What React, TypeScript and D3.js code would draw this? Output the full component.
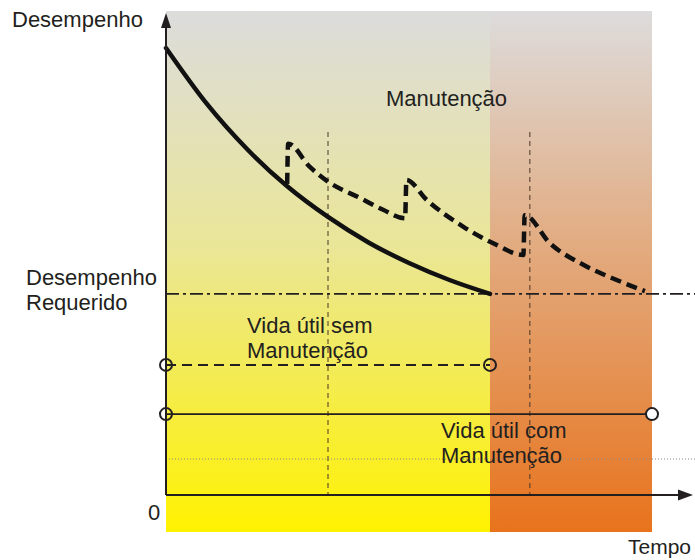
import React from "react";
import * as d3 from "d3";

// ---- data (time units: 0 = start, 100 = end of life without maintenance) ----
const degradationT = [0, 12.5, 25, 37.5, 50, 62.5, 75, 87.5, 100];
const degradationP = [100, 87.6, 77.4, 69.0, 62.2, 56.5, 51.9, 48.1, 45];

const maintT = [37.4, 37.7, 44.4, 50, 60, 67, 73.8, 74.2, 80.5, 91.8, 101, 110.3, 110.7, 118.5, 128.8, 139.1, 147.8];
const maintP = [69.6, 78.6, 73.4, 70.1, 66.4, 63.8, 61.9, 70.5, 66, 60, 56.3, 53.7, 62.6, 56.3, 51.5, 48.1, 45.6];

const requiredPerformance = 45;
const inspectionTimes = [50, 112.3];
const lifeWithout = [0, 100];
const lifeWith = [0, 150];
const lifeWithoutLevel = 29.1;
const lifeWithLevel = 18.1;
const guideLevel = 8.05;
const phaseStarts = [0, 100];
const phaseEnds = [100, 150];

const t = d3.scaleLinear().domain([0, 100]).range([166, 490]);
const p = d3.scaleLinear().domain([0, 100]).range([495, 48]);

const FONT = "'Liberation Sans', Arial, sans-serif";
const TXT = "#231f20";

export default function App() {
  const line = d3
    .line<[number, number]>()
    .x((d) => t(d[0]))
    .y((d) => p(d[1]))
    .curve(d3.curveMonotoneX);
  const degr = line(degradationT.map((v, i) => [v, degradationP[i]]) as [number, number][]) || "";
  const maint = line(maintT.map((v, i) => [v, maintP[i]]) as [number, number][]) || "";

  const bgTop = 11;
  const bgBottom = 532;
  const axisY = p(0);
  const axisX = t(0);
  const rightEdge = 695;

  return (
    <svg
      width={695}
      height={560}
      style={{ position: "absolute", left: 0, top: 0, background: "#fff" }}
      fontFamily={FONT}
    >
      <defs>
        <linearGradient id="gy" x1="0" y1="0" x2="0" y2="1">
          <stop offset="0" stopColor="#dcdcdc" />
          <stop offset="0.45" stopColor="#eae698" />
          <stop offset="1" stopColor="#fff200" />
        </linearGradient>
        <linearGradient id="go" x1="0" y1="0" x2="0" y2="1">
          <stop offset="0" stopColor="#dddcdc" />
          <stop offset="0.45" stopColor="#e2ab80" />
          <stop offset="1" stopColor="#e8731c" />
        </linearGradient>
      </defs>

      {phaseStarts.map((s, i) => (
        <rect
          key={i}
          x={t(s)}
          y={bgTop}
          width={t(phaseEnds[i]) - t(s)}
          height={bgBottom - bgTop}
          fill={i === 0 ? "url(#gy)" : "url(#go)"}
        />
      ))}

      {/* inspection verticals */}
      {inspectionTimes.map((v, i) => (
        <line
          key={i}
          x1={t(v)}
          x2={t(v)}
          y1={132}
          y2={axisY}
          stroke="#4a3528"
          strokeWidth={1}
          strokeDasharray="5,4"
        />
      ))}

      {/* dotted guide */}
      <line x1={axisX} x2={rightEdge} y1={p(guideLevel)} y2={p(guideLevel)} stroke="#8a8a8a" strokeWidth={1} strokeDasharray="1,2" />

      {/* required performance */}
      <line
        x1={axisX}
        x2={rightEdge}
        y1={p(requiredPerformance)}
        y2={p(requiredPerformance)}
        stroke={TXT}
        strokeWidth={1.6}
        strokeDasharray="13,4,3,4"
      />

      {/* life lines */}
      <line x1={t(lifeWithout[0])} x2={t(lifeWithout[1])} y1={p(lifeWithoutLevel)} y2={p(lifeWithoutLevel)} stroke={TXT} strokeWidth={2} strokeDasharray="10,6" />
      <line x1={t(lifeWith[0])} x2={t(lifeWith[1])} y1={p(lifeWithLevel)} y2={p(lifeWithLevel)} stroke={TXT} strokeWidth={1.6} />
      {[lifeWithout[0], lifeWithout[1]].map((v, i) => (
        <circle key={"a" + i} cx={t(v)} cy={p(lifeWithoutLevel)} r={6} fill="none" stroke={TXT} strokeWidth={2} />
      ))}
      {[lifeWith[0], lifeWith[1]].map((v, i) => (
        <circle key={"b" + i} cx={t(v)} cy={p(lifeWithLevel)} r={6} fill={i === 1 ? "#fff" : "none"} stroke={TXT} strokeWidth={2} />
      ))}

      {/* curves */}
      <path d={degr} fill="none" stroke="#111" strokeWidth={4.5} strokeLinecap="round" />
      <path d={maint} fill="none" stroke="#111" strokeWidth={4.5} strokeDasharray="11,6" strokeLinejoin="miter" />

      {/* axes */}
      <line x1={axisX} x2={axisX} y1={axisY} y2={24} stroke={TXT} strokeWidth={2} />
      <polygon points={`${axisX},13 ${axisX - 5},28 ${axisX + 5},28`} fill={TXT} />
      <line x1={axisX} x2={682} y1={axisY} y2={axisY} stroke={TXT} strokeWidth={2} />
      <polygon points={`693,${axisY} 678,${axisY - 5.5} 678,${axisY + 5.5}`} fill={TXT} />

      {/* text */}
      <g fill={TXT} fontSize={22}>
        <text x={12} y={27}>Desempenho</text>
        <text x={386} y={106}>Manutenção</text>
        <text x={26} y={285}>Desempenho</text>
        <text x={26} y={310}>Requerido</text>
        <text x={247} y={333}>Vida útil sem</text>
        <text x={247} y={358}>Manutenção</text>
        <text x={441} y={438}>Vida útil com</text>
        <text x={441} y={463}>Manutenção</text>
        <text x={148} y={520}>0</text>
        <text x={691} y={554} textAnchor="end" fontSize={21}>Tempo</text>
      </g>
    </svg>
  );
}
